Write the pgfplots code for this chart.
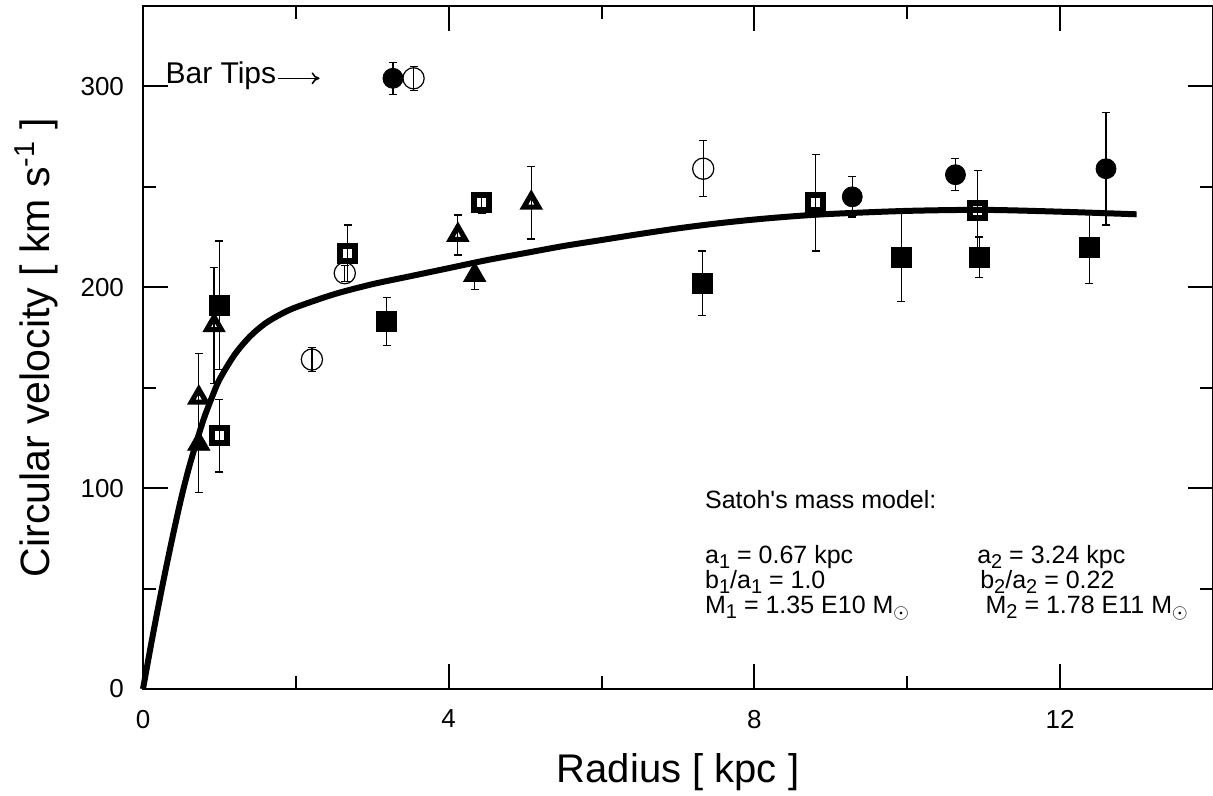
\documentclass[border=0pt]{standalone}
\usepackage{fontspec}
\setmainfont{Liberation Sans}
\usepackage{pgfplots}
\pgfplotsset{compat=1.18}
\usepackage{pgfplotstable}
\usetikzlibrary{arrows.meta}

\newcommand\sub[1]{\raisebox{-0.4ex}{\fontsize{10}{11}\selectfont #1}}

% filled circles
\pgfplotstableread{
x y e
3.27 304 8
9.28 245 10
10.63 256 8
12.60 259 28
}\fcirc
% open circles
\pgfplotstableread{
x y e
3.54 304 6
2.21 164 6
2.64 207 4
7.33 259 14
}\ocirc
% filled squares
\pgfplotstableread{
x y e
1.00 191 32
3.19 183 12
7.32 202 16
9.92 215 22
10.94 215 10
12.38 220 18
}\fsq
% open squares
\pgfplotstableread{
x y e
1.00 126 18
2.68 217 14
4.43 242 5
8.80 242 24
10.92 238 20
}\osq
% filled triangles
\pgfplotstableread{
x y e
0.73 122 24
4.34 206 7
}\ftri
% open triangles
\pgfplotstableread{
x y e
0.73 145 22
0.93 181 29
4.12 226 10
5.08 242 18
}\otri

\begin{document}
\begin{tikzpicture}
\useasboundingbox (-71.5pt,-53.5pt) rectangle (535pt,344.5pt);
\begin{axis}[
  scale only axis, width=535pt, height=341.5pt,
  at={(0pt,0pt)}, anchor=south west,
  xmin=0, xmax=14, ymin=0, ymax=340,
  axis line style={line width=1pt},
  xtick={0,4,8,12}, minor xtick={2,6,10},
  ytick={0,100,200,300}, minor ytick={50,150,250},
  tick align=inside, xtick pos=both, ytick pos=both,
  major tick length=12.5pt, minor tick length=6.5pt,
  tick style={black, line width=1pt},
  ticklabel style={font=\fontsize{13}{15}\selectfont},
  /pgf/number format/assume math mode=true,
  xticklabel style={yshift=-7pt},
  yticklabel style={xshift=-6pt},
  clip=false,
  error bars/error bar style={line width=0.6pt, black},
  error bars/error mark options={rotate=90, mark size=2pt, line width=0.6pt, black},
]
% model curve
\addplot[black, line width=3pt, smooth, tension=0.5, line join=round] coordinates {
(0,0) (0.1,21) (0.2,41) (0.3,60) (0.4,78) (0.5,95) (0.6,110) (0.7,123)
(0.8,135) (0.9,145) (1.0,154) (1.2,166.5) (1.4,175.5) (1.6,182) (1.8,186.5)
(2.0,190) (2.5,196.5) (3.0,201.5) (3.5,205.5) (4.0,209.5) (4.5,213.5)
(5.0,217) (5.5,220.5) (6.0,223.5) (6.5,226.5) (7.0,229.3) (7.5,231.7)
(8.0,233.7) (8.5,235.3) (9.0,236.5) (10.0,238) (11.0,238.5) (12.0,237.6)
(13.0,236.3)
};
% filled circles
\addplot[black, only marks, mark=*, mark size=5pt,
  error bars/.cd, y dir=both, y explicit]
  table[x=x, y=y, y error=e] {\fcirc};
% open circles
\addplot[black, only marks, mark=o, mark size=5.3pt, mark options={line width=0.6pt},
  error bars/.cd, y dir=both, y explicit]
  table[x=x, y=y, y error=e] {\ocirc};
% filled squares
\addplot[black, only marks, mark=square*, mark size=5pt,
  error bars/.cd, y dir=both, y explicit]
  table[x=x, y=y, y error=e] {\fsq};
% open squares
\addplot[black, only marks, mark=square, mark size=3.75pt, mark options={line width=3pt},
  error bars/.cd, y dir=both, y explicit]
  table[x=x, y=y, y error=e] {\osq};
% filled triangles
\addplot[black, only marks, mark=triangle*, mark size=6.4pt,
  error bars/.cd, y dir=both, y explicit]
  table[x=x, y=y, y error=e] {\ftri};
% open triangles
\addplot[black, only marks, mark=triangle, mark size=4.3pt, mark options={line width=2.5pt},
  error bars/.cd, y dir=both, y explicit]
  table[x=x, y=y, y error=e] {\otri};

\node[anchor=base west, inner sep=0pt, font=\fontsize{15}{17}\selectfont] at (axis cs:0.29,301.5) {Bar Tips};
\draw[-{To[length=4pt,width=6pt]}, line width=0.8pt] (axis cs:1.76,304) -- (axis cs:2.31,304);

\begin{scope}[every node/.style={anchor=base west, font=\fontsize{12.5}{15}\selectfont, inner sep=0pt}]
\node at (axis cs:7.35,90) {Satoh\textquotesingle s mass model:};
\node at (axis cs:7.35,62.7) {a\sub{1} = 0.67 kpc};
\node at (axis cs:7.35,50.2) {b\sub{1}/a\sub{1} = 1.0};
\node at (axis cs:7.35,37.8) {M\sub{1} = 1.35 E10 M\sub{$\odot$}};
\node at (axis cs:10.91,62.7) {a\sub{2} = 3.24 kpc};
\node at (axis cs:10.95,50.2) {b\sub{2}/a\sub{2} = 0.22};
\node at (axis cs:11.02,37.8) {M\sub{2} = 1.78 E11 M\sub{$\odot$}};
\end{scope}
\end{axis}
\node[anchor=base, font=\fontsize{20}{24}\selectfont] at (267.5pt,-46.5pt) {Radius [ kpc ]};
\node[anchor=base, rotate=90, font=\fontsize{20.5}{24}\selectfont] at (-46.5pt,170.75pt) {Circular velocity [ km s\textsuperscript{-1} ]};
\end{tikzpicture}
\end{document}
